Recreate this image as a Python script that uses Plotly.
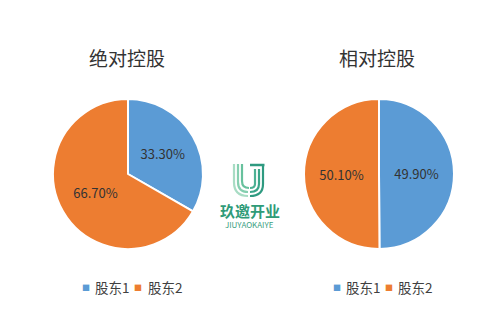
import plotly.graph_objects as go

W, H = 500, 329

labels = ["股东1", "股东2"]
titles = ["绝对控股", "相对控股"]
values_abs = [33.3, 66.7]
values_rel = [49.9, 50.1]
text_abs = ["33.30%", "66.70%"]
text_rel = ["49.90%", "50.10%"]
colors = ["#5b9bd5", "#ed7d31"]
FONT = "Noto Sans CJK SC, Noto Sans, sans-serif"


def px(x, y):
    return x / W, 1 - y / H


fig = go.Figure()

domains = [([53 / W, 203 / W], [1 - 249 / H, 1 - 99 / H]),
           ([304 / W, 454 / W], [1 - 249 / H, 1 - 99 / H])]

for i, (vals, txt) in enumerate([(values_abs, text_abs), (values_rel, text_rel)]):
    fig.add_trace(go.Pie(
        labels=labels, values=vals, text=txt,
        textinfo="text", textposition="inside",
        insidetextorientation="horizontal",
        sort=False, direction="clockwise", rotation=0,
        marker=dict(colors=colors, line=dict(color="white", width=2)),
        textfont=dict(family=FONT, size=13, color="#333333"),
        domain=dict(x=domains[i][0], y=domains[i][1]),
        showlegend=False,
        hoverinfo="label+text",
    ))

# titles
for t, cx in zip(titles, [127, 377]):
    x, y = px(cx, 57)
    fig.add_annotation(text=t, x=x, y=y, xref="paper", yref="paper",
                       showarrow=False, xanchor="center", yanchor="middle",
                       font=dict(family=FONT, size=19, color="#333333"))

# legends (small square markers + labels), one under each pie
legend_pos = [[(86, 93), (138, 146)], [(337, 344), (389, 396)]]
for group in legend_pos:
    for (sqx, tx), lab, col in zip(group, labels, colors):
        x, y = px(sqx, 287)
        fig.add_annotation(text="■", x=x, y=y, xref="paper", yref="paper",
                           showarrow=False, xanchor="center", yanchor="middle",
                           font=dict(family=FONT, size=8, color=col))
        x, y = px(tx, 287)
        fig.add_annotation(text=lab, x=x, y=y, xref="paper", yref="paper",
                           showarrow=False, xanchor="left", yanchor="middle",
                           font=dict(family=FONT, size=13.5, color="#404040"))

# watermark logo
dx = -2
logo_paths = [
    ([(236, 164), (236, 182)], (236, 196), (250, 196), "#a8dcc4"),
    ([(240, 164), (240, 182)], (240, 192), (250, 192), "#86cfb0"),
    ([(244, 164), (244, 181)], (244, 188), (251, 188), "#67c19d"),
    ([(265, 166), (265, 184)], (265, 196), (252, 196), "#2e9a80"),
    ([(261, 169), (261, 184)], (261, 192), (252, 192), "#3aa589"),
    ([(257, 169), (257, 184)], (257, 188), (252, 188), "#4cb093"),
]
for pts, ctrl, end, col in logo_paths:
    (x0, y0), (x1, y1) = [px(p[0] + dx, p[1]) for p in pts]
    cx, cy = px(ctrl[0] + dx, ctrl[1])
    ex, ey = px(end[0] + dx, end[1])
    fig.add_shape(type="path", xref="paper", yref="paper",
                  path=f"M {x0},{y0} L {x1},{y1} Q {cx},{cy} {ex},{ey}",
                  line=dict(color=col, width=2.2))
x0, y0 = px(252 + dx, 165)
x1, y1 = px(266.5 + dx, 165)
fig.add_shape(type="line", xref="paper", yref="paper", x0=x0, y0=y0, x1=x1, y1=y1,
              line=dict(color="#2e9a80", width=2.5))

x, y = px(250, 210)
fig.add_annotation(text="<b>玖邀开业</b>", x=x, y=y, xref="paper", yref="paper",
                   showarrow=False, borderpad=0,
                   font=dict(family=FONT, size=15, color="#2f9b78"))
x, y = px(249, 231)
fig.add_annotation(text="JIUYAOKAIYE", x=x, y=y, xref="paper", yref="paper",
                   showarrow=False, borderpad=0,
                   font=dict(family=FONT, size=8, color="#3aa07f"))

fig.update_layout(
    width=W, height=H,
    margin=dict(l=0, r=0, t=0, b=0),
    paper_bgcolor="white", plot_bgcolor="white",
    showlegend=False,
)

fig.write_html("out.html")
